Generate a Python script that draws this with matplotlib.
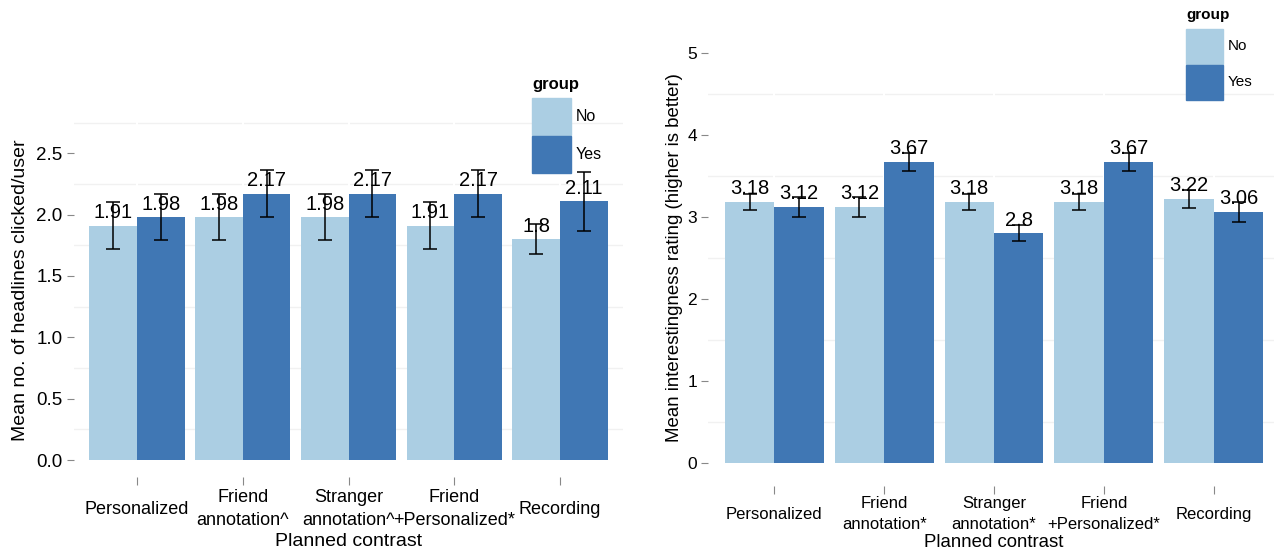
import numpy as np
import matplotlib
matplotlib.use("Agg")
import matplotlib.pyplot as plt
from matplotlib.patches import Rectangle

plt.rcParams['font.family'] = ['Liberation Sans', 'DejaVu Sans']

# --- data ---
left_cats = ["Personalized", "Friend\nannotation^", "Stranger\nannotation^",
             "Friend\n+Personalized*", "Recording"]
left_no = [1.91, 1.98, 1.98, 1.91, 1.80]
left_yes = [1.98, 2.17, 2.17, 2.17, 2.11]
left_no_err = [0.19, 0.19, 0.19, 0.19, 0.12]
left_yes_err = [0.19, 0.19, 0.19, 0.19, 0.24]

right_cats = ["Personalized", "Friend\nannotation*", "Stranger\nannotation*",
              "Friend\n+Personalized*", "Recording"]
right_no = [3.18, 3.12, 3.18, 3.18, 3.22]
right_yes = [3.12, 3.67, 2.80, 3.67, 3.06]
right_no_err = [0.10, 0.12, 0.10, 0.10, 0.11]
right_yes_err = [0.12, 0.11, 0.10, 0.11, 0.12]

groups = ["No", "Yes"]
c_no = '#abcee3'
c_yes = '#4077b4'


def draw_panel(ax, cats, no, yes, no_err, yes_err, ylim, yticks, yfmt,
               minor, fs_tick, fs_lab, xpad, ylabel, ylab_xy, xlab_y):
  x = np.arange(len(cats))
  w = 0.45
  ax.set_xlim(-0.6, len(cats) - 0.4)
  ax.set_ylim(*ylim)
  for yy in minor:
    ax.axhline(yy, color='#f1f1f1', lw=1.0, zorder=0)
  for xx in x:
    ax.axvline(xx, color='white', lw=1.5, zorder=0.5)
  for off, vals, errs, col in [(-w/2, no, no_err, c_no), (w/2, yes, yes_err, c_yes)]:
    ax.bar(x + off, vals, width=w, color=col, zorder=1)
    for xi, v in zip(x + off, vals):
      ax.annotate(f"{v:g}", (xi, v), xytext=(0, 2.5), textcoords='offset points',
                  ha='center', va='bottom', fontsize=14.5, zorder=2)
    ax.errorbar(x + off, vals, yerr=errs, fmt='none', ecolor='black',
                elinewidth=1.1, capsize=5, capthick=1.1, zorder=3)
  for s in ax.spines.values():
    s.set_visible(False)
  ax.set_xticks(x)
  ax.set_xticklabels(cats, fontsize=fs_tick, linespacing=1.45)
  for t in ax.get_xticklabels():
    t.set_va('center')
  ax.tick_params(axis='x', length=6, color='#888888', pad=xpad)
  ax.set_yticks(yticks)
  ax.set_yticklabels([yfmt.format(v) for v in yticks], fontsize=fs_tick + 0.5)
  ax.tick_params(axis='y', length=5, color='#888888', pad=3)
  ax.set_xlabel("Planned contrast", fontsize=fs_lab, va='center')
  ax.xaxis.set_label_coords(0.5, xlab_y)
  ax.set_ylabel(ylabel, fontsize=fs_lab, va='center')
  ax.yaxis.set_label_coords(*ylab_xy)


def draw_legend(fig, x0, y0, kw, kh, fs_title, fs_lab):
  W, H = 1274.0, 553.0
  fig.text(x0 / W, 1 - (y0 - 14) / H, "group", fontsize=fs_title,
           fontweight='bold', ha='left', va='center')
  for i, (g, col) in enumerate(zip(groups, [c_no, c_yes])):
    top = y0 + i * (kh + 1)
    fig.add_artist(Rectangle((x0 / W, 1 - (top + kh) / H), kw / W, kh / H,
                             transform=fig.transFigure, color=col, zorder=5))
    fig.text((x0 + kw + 5) / W, 1 - (top + kh / 2) / H, g, fontsize=fs_lab,
             ha='left', va='center')


fig = plt.figure(figsize=(12.74, 5.53), dpi=100)

ax1 = fig.add_axes([0.0577, 0.1371, 0.4317, 0.6635])
draw_panel(ax1, left_cats, left_no, left_yes, left_no_err, left_yes_err,
           (-0.14, 2.85), [0, 0.5, 1.0, 1.5, 2.0, 2.5], "{:.1f}",
           [0.25, 0.75, 1.25, 1.75, 2.25, 2.75], 13, 14, 17.0,
           "Mean no. of headlines clicked/user", (-0.097, 0.51), -0.174)

ax2 = fig.add_axes([0.556, 0.1217, 0.4485, 0.8646])
draw_panel(ax2, right_cats, right_no, right_yes, right_no_err, right_yes_err,
           (-0.28, 5.55), [0, 1, 2, 3, 4, 5], "{:d}",
           [0.5, 1.5, 2.5, 3.5, 4.5], 12, 13.4, 14.5,
           "Mean interestingness rating (higher is better)", (-0.060, 0.477), -0.118)

draw_legend(fig, 532, 98, 39, 37, 12, 11.5)
draw_legend(fig, 1186, 29, 37, 35, 11, 11)

fig.savefig("out.png", dpi=100)
